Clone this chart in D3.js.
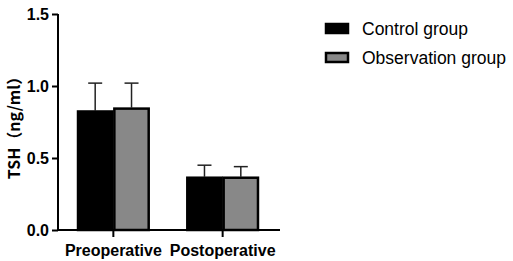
<!DOCTYPE html>
<html>
<head>
<meta charset="utf-8">
<script src="https://cdn.jsdelivr.net/npm/d3@7"></script>
<style>
  body { margin: 0; background: #fff; }
  svg { display: block; font-family: "Liberation Sans", Arial, sans-serif; }
</style>
</head>
<body>
<div id="chart"></div>
<script>
const categories = ["Preoperative", "Postoperative"];
const groups = ["Control group", "Observation group"];
const means = [[0.83, 0.85], [0.37, 0.37]];
const errors = [[0.19, 0.17], [0.08, 0.07]];
const yTicks = [0, 0.5, 1.0, 1.5];
const colors = ["#000000", "#888888"];

const W = 513, H = 261;
const svg = d3.select("#chart").append("svg")
  .attr("width", W).attr("height", H);

const x0 = d3.scaleBand().domain(categories).range([58, 278]).paddingInner(0.335).paddingOuter(0.174);
const x1 = d3.scaleBand().domain(groups).range([0, x0.bandwidth()]);
const y = d3.scaleLinear().domain([0, 1.5]).range([230, 14]);

// bars
const cat = svg.selectAll("g.cat")
  .data(categories)
  .join("g")
  .attr("transform", d => `translate(${x0(d)},0)`);

cat.each(function (c, ci) {
  const g = d3.select(this);
  groups.forEach((grp, gi) => {
    const v = means[ci][gi], e = errors[ci][gi];
    const cx = x1(grp) + x1.bandwidth() / 2;
    g.append("line")
      .attr("x1", cx).attr("x2", cx)
      .attr("y1", y(v)).attr("y2", y(v + e))
      .attr("stroke", "#222").attr("stroke-width", 1.5);
    g.append("line")
      .attr("x1", cx - 7).attr("x2", cx + 7)
      .attr("y1", y(v + e)).attr("y2", y(v + e))
      .attr("stroke", "#222").attr("stroke-width", 1.5);
    g.append("rect")
      .attr("x", x1(grp) + 1)
      .attr("y", y(v) + 1)
      .attr("width", x1.bandwidth() - 2)
      .attr("height", y(0) - y(v) - 1)
      .attr("fill", colors[gi])
      .attr("stroke", "#000").attr("stroke-width", 2.5);
  });
});

// axes
const yAxis = svg.append("g")
  .attr("transform", "translate(58,0)")
  .call(d3.axisLeft(y).tickValues(yTicks).tickFormat(d3.format(".1f")).tickSize(6).tickPadding(3));
const xAxis = svg.append("g")
  .attr("transform", "translate(0,230)")
  .call(d3.axisBottom(x0).tickSize(7).tickPadding(8));
xAxis.select(".domain").attr("d", "M57,0H280");

[yAxis, xAxis].forEach(a => {
  a.selectAll("path, line").attr("stroke", "#000").attr("stroke-width", 2);
  a.selectAll("text")
    .attr("fill", "#000")
    .style("font-size", "16px")
    .style("font-weight", "bold");
});
yAxis.select(".domain").attr("d", "M0,14V231");

svg.append("text")
  .attr("transform", "translate(20,124) rotate(-90)")
  .attr("text-anchor", "middle")
  .style("font-size", "16px")
  .style("font-weight", "bold")
  .style("font-family", "'Noto Sans CJK SC', sans-serif")
  .text("TSH（ng/ml）");

// legend
const legend = svg.selectAll("g.legend")
  .data(groups)
  .join("g")
  .attr("transform", (d, i) => `translate(325,${23 + i * 29})`);
legend.append("rect")
  .attr("x", 1).attr("y", 1)
  .attr("width", 22).attr("height", 9)
  .attr("fill", (d, i) => colors[i])
  .attr("stroke", "#000").attr("stroke-width", 2.5);
legend.append("text")
  .attr("x", 37).attr("y", 12)
  .style("font-size", "17.5px")
  .attr("fill", "#000")
  .text(d => d);
</script>
</body>
</html>
